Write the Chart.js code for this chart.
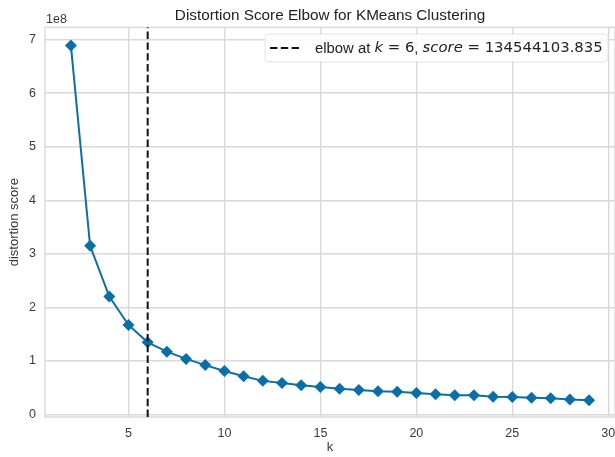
<!DOCTYPE html>
<html>
<head>
<meta charset="utf-8">
<script src="https://cdn.jsdelivr.net/npm/chart.js@4.4.1/dist/chart.umd.min.js"></script>
<style>
  html, body { margin: 0; padding: 0; background: #fff; }
  #wrap { width: 615px; height: 457px; position: relative; }
</style>
</head>
<body>
<div id="wrap"><canvas id="c" width="615" height="457"></canvas></div>
<script>
// ---- data ----
const kValues = [2, 3, 4, 5, 6, 7, 8, 9, 10, 11, 12, 13, 14, 15, 16, 17, 18, 19, 20, 21, 22, 23, 24, 25, 26, 27, 28, 29];
const distortionScores = [
  689000000, 315000000, 220000000, 167000000, 134544103.835, 117000000, 103500000, 92000000,
  81000000, 71000000, 62500000, 58500000, 54500000, 51000000, 48000000, 45500000,
  43000000, 42000000, 40000000, 37600000, 35700000, 35500000, 32700000, 32500000,
  31000000, 30000000, 27700000, 26400000
];
const elbowK = 6;
const elbowScore = 134544103.835;
const xTickValues = [5, 10, 15, 20, 25, 30];
const yTickValues = [0, 1, 2, 3, 4, 5, 6, 7];
const yTickScale = 1e8;
const chartTitle = 'Distortion Score Elbow for KMeans Clustering';
const xLabel = 'k';
const yLabel = 'distortion score';
const offsetText = '1e8';

const lineColor = '#0a6fa8';
const gridColor = '#d9d9d9';
const textColor = '#3a3a3a';
const sansFont = "'Liberation Sans', Arial, sans-serif";
const mathFont = "'DejaVu Sans', sans-serif";

const points = kValues.map((k, i) => ({ x: k, y: distortionScores[i] }));

const frameAndExtras = {
  id: 'frameAndExtras',
  beforeDatasetsDraw(chart) {
    const { ctx, chartArea: a } = chart;
    ctx.save();
    ctx.strokeStyle = gridColor;
    ctx.lineWidth = 1.4;
    ctx.strokeRect(a.left, a.top, a.right - a.left, a.bottom - a.top);
    ctx.restore();
  },
  afterDraw(chart) {
    const { ctx, chartArea: a } = chart;
    ctx.save();
    // offset text
    ctx.fillStyle = textColor;
    ctx.font = '12.5px ' + sansFont;
    ctx.textBaseline = 'alphabetic';
    ctx.textAlign = 'left';
    ctx.fillText(offsetText, a.left + 1, a.top - 4);

    // legend
    const bx = 265, by = 34, bw = 343, bh = 28, r = 4;
    ctx.beginPath();
    ctx.moveTo(bx + r, by);
    ctx.arcTo(bx + bw, by, bx + bw, by + bh, r);
    ctx.arcTo(bx + bw, by + bh, bx, by + bh, r);
    ctx.arcTo(bx, by + bh, bx, by, r);
    ctx.arcTo(bx, by, bx + bw, by, r);
    ctx.closePath();
    ctx.fillStyle = 'rgba(255,255,255,0.85)';
    ctx.fill();
    ctx.strokeStyle = '#e2e2e2';
    ctx.lineWidth = 1;
    ctx.stroke();

    const cy = by + bh / 2;
    ctx.beginPath();
    ctx.setLineDash([7.4, 3.4]);
    ctx.strokeStyle = '#111';
    ctx.lineWidth = 2;
    ctx.moveTo(270, cy);
    ctx.lineTo(299, cy);
    ctx.stroke();
    ctx.setLineDash([]);

    const segs = [
      ['elbow at ', 'normal', sansFont],
      ['k', 'italic', mathFont],
      [' = ' + elbowK, 'normal', mathFont],
      [', ', 'normal', sansFont],
      ['score', 'italic', mathFont],
      [' = ' + elbowScore.toFixed(3), 'normal', mathFont]
    ];
    const targetW = 288;
    let size = 15;
    const measure = (s) => segs.reduce((w, g) => {
      ctx.font = g[1] + ' ' + s + 'px ' + g[2];
      return w + ctx.measureText(g[0]).width;
    }, 0);
    size = size * targetW / measure(size);
    let x = 315;
    ctx.fillStyle = '#222';
    ctx.textBaseline = 'middle';
    segs.forEach(g => {
      ctx.font = g[1] + ' ' + size + 'px ' + g[2];
      ctx.fillText(g[0], x, cy + 0.5);
      x += ctx.measureText(g[0]).width;
    });
    ctx.restore();
  }
};

new Chart(document.getElementById('c'), {
  type: 'scatter',
  data: {
    datasets: [
      {
        type: 'line',
        data: points,
        borderColor: lineColor,
        backgroundColor: lineColor,
        borderWidth: 2,
        pointStyle: 'rectRot',
        pointRadius: 6,
        pointHoverRadius: 6,
        pointBorderWidth: 0,
        tension: 0,
        fill: false,
        order: 1
      },
      {
        type: 'line',
        data: [{ x: elbowK, y: -5e6 }, { x: elbowK, y: 7.23e8 }],
        borderColor: '#111',
        borderWidth: 2,
        borderDash: [7.4, 3.4],
        pointRadius: 0,
        fill: false,
        order: 0
      }
    ]
  },
  options: {
    responsive: false,
    animation: false,
    devicePixelRatio: 1,
    layout: { autoPadding: false, padding: { left: 0, right: 0, top: 0, bottom: 0 } },
    plugins: {
      legend: { display: false },
      tooltip: { enabled: false },
      title: {
        display: true,
        text: chartTitle,
        fullSize: false,
        color: '#222',
        font: { family: sansFont, size: 15.3, weight: 'normal' },
        padding: { top: 7, bottom: 2 }
      }
    },
    scales: {
      x: {
        type: 'linear',
        min: 0.65,
        max: 30.35,
        afterBuildTicks: (axis) => { axis.ticks = xTickValues.map(v => ({ value: v })); },
        afterFit: (axis) => { axis.height = 40; axis.paddingLeft = 0; axis.paddingRight = 0; },
        grid: { color: gridColor, lineWidth: 1.4, drawTicks: false },
        border: { display: false },
        ticks: { color: textColor, font: { family: sansFont, size: 12.5 }, padding: 9, maxRotation: 0, autoSkip: false },
        title: { display: true, text: xLabel, color: textColor, font: { family: sansFont, size: 13 }, padding: { top: 0, bottom: 2 } }
      },
      y: {
        type: 'linear',
        min: -5e6,
        max: 7.23e8,
        afterBuildTicks: (axis) => { axis.ticks = yTickValues.map(v => ({ value: v * yTickScale })); },
        afterFit: (axis) => { axis.width = 45; axis.paddingTop = 0; axis.paddingBottom = 0; },
        grid: { color: gridColor, lineWidth: 1.4, drawTicks: false },
        border: { display: false },
        ticks: {
          color: textColor, font: { family: sansFont, size: 12.5 }, padding: 9, autoSkip: false,
          callback: (v) => String(Math.round(v / yTickScale))
        },
        title: { display: true, text: yLabel, color: textColor, font: { family: sansFont, size: 13 }, padding: { top: 7, bottom: 0 } }
      }
    }
  },
  plugins: [frameAndExtras]
});
</script>
</body>
</html>
